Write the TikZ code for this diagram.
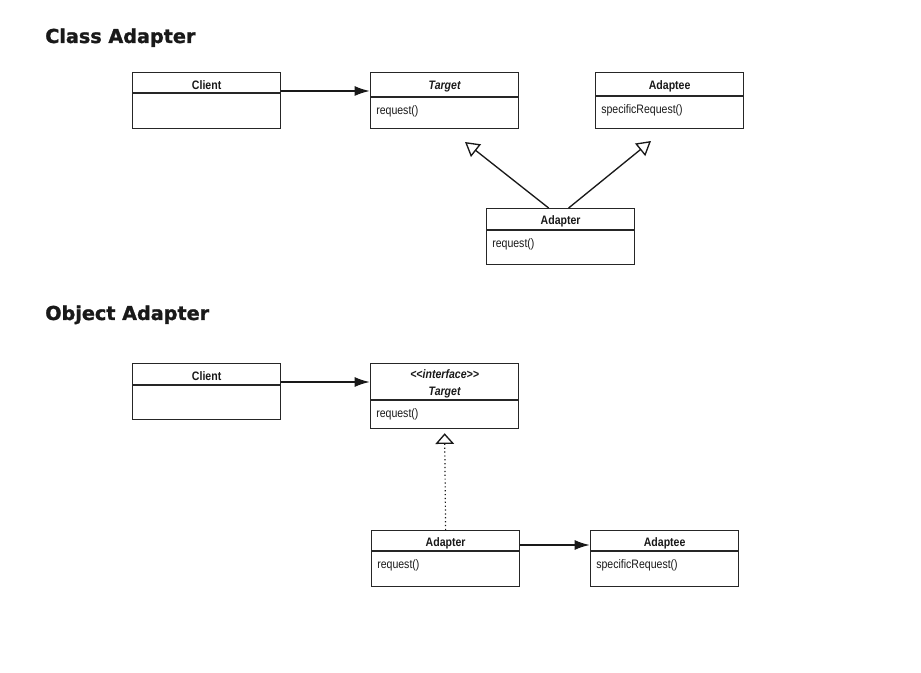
\documentclass[tikz,border=0pt]{standalone}
\usepackage{fontspec}
\setmainfont{Liberation Sans}
\newfontfamily\boxfont[FakeStretch=0.86]{Liberation Sans}
\newfontfamily\titlefont[BoldFeatures={FakeBold=1.3}]{DejaVu Sans}
\usetikzlibrary{arrows.meta}

\tikzset{
  classbox/.style={draw=black!85, line width=0.95pt, anchor=north west,
    minimum width=111pt, inner sep=0pt},
  boxline/.style={draw=black!85, line width=0.8pt},
  classname/.style={font=\boxfont\fontsize{9.2}{12.5}\selectfont\bfseries, text=black!90,
    inner sep=0pt, align=center},
  classop/.style={font=\boxfont\fontsize{9.2}{11}\selectfont, text=black!90, inner sep=0pt},
  heading/.style={font=\titlefont\fontsize{14.4}{16}\selectfont\bfseries,
    text=black!90, anchor=base west, inner sep=0pt},
  assoc/.style={draw=black!90, line width=1.5pt, -{Latex[length=11.5pt,width=7.5pt]}},
  inherit/.style={draw=black!90, line width=1pt,
    -{Triangle[open,length=10.5pt,width=12pt,line width=1pt]}},
  realize/.style={draw=black!90, line width=0.9pt, dotted,
    -{Triangle[open,length=8pt,width=14pt,line width=1pt]}}
}

% name, position, height, header height, header text, operation
\newcommand{\umlclass}[6]{%
  \node[classbox, minimum height=#3*0.75pt] (#1) at (#2) {};
  \draw[boxline] ([yshift=-#4*0.75pt]#1.north west) -- ([yshift=-#4*0.75pt]#1.north east);
  \node[classname] (#1Name) at ([yshift=-(#4*0.375pt+1.8pt)]#1.north) {#5};
  \node[classop, anchor=north west] (#1Op) at ([xshift=6*0.75pt, yshift=-(#4+8)*0.75pt]#1.north west) {#6};
}

\begin{document}
\begin{tikzpicture}[x=0.75pt, y=-0.75pt]
  \useasboundingbox (0,0) rectangle (921,673);

  % class adapter
  \node[heading] (classTitle) at (45,43) {Class Adapter};
  \umlclass{cClient}{132,72}{56}{21}{Client}{}
  \umlclass{cTarget}{370,72}{56}{25}{\itshape Target}{request()}
  \umlclass{cAdaptee}{595,72}{56}{24}{Adaptee}{specificRequest()}
  \umlclass{cAdapter}{486,208}{56}{22}{Adapter}{request()}
  \coordinate (cTargetTip) at (465,142);
  \coordinate (cAdapteeTip) at (651,141);
  \draw[assoc] ([yshift=-19*0.75pt]cClient.north east) -- ([yshift=-19*0.75pt]cTarget.north west);
  \draw[inherit] ([xshift=-12*0.75pt]cAdapter.north) -- (cTargetTip);
  \draw[inherit] ([xshift=8*0.75pt]cAdapter.north) -- (cAdapteeTip);

  % object adapter
  \node[heading] (objectTitle) at (45,320) {Object Adapter};
  \umlclass{oClient}{132,363}{56}{22}{Client}{}
  \umlclass{oTarget}{370,363}{65}{37}{\itshape {<}{<}interface{>}{>}\\\itshape Target}{request()}
  \umlclass{oAdapter}{371,530}{56}{21}{Adapter}{request()}
  \umlclass{oAdaptee}{590,530}{56}{21}{Adaptee}{specificRequest()}
  \draw[assoc] ([yshift=-19*0.75pt]oClient.north east) -- ([yshift=-19*0.75pt]oTarget.north west);
  \draw[realize] (oAdapter.north) -- ([yshift=-4*0.75pt]oTarget.south);
  \draw[assoc] ([yshift=-15*0.75pt]oAdapter.north east) -- ([yshift=-15*0.75pt]oAdaptee.north west);
\end{tikzpicture}
\end{document}
